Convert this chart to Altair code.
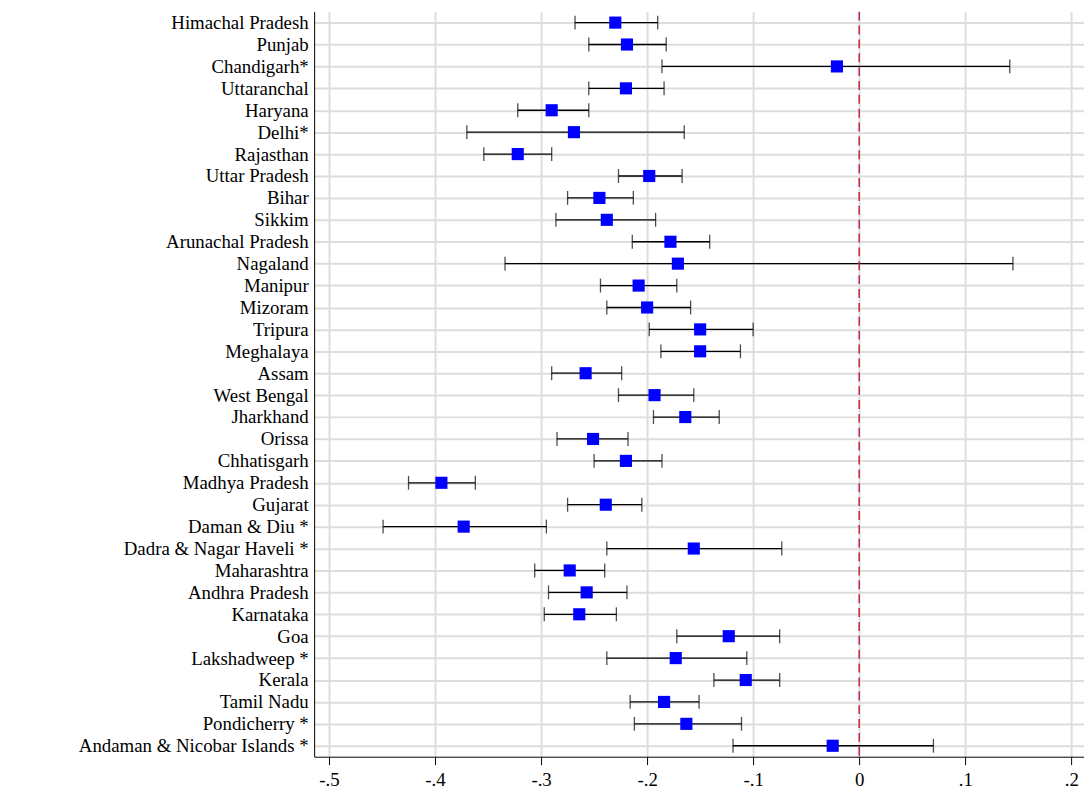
import altair as alt
import pandas as pd

states = ["Himachal Pradesh", "Punjab", "Chandigarh*", "Uttaranchal", "Haryana", "Delhi*",
          "Rajasthan", "Uttar Pradesh", "Bihar", "Sikkim", "Arunachal Pradesh", "Nagaland",
          "Manipur", "Mizoram", "Tripura", "Meghalaya", "Assam", "West Bengal", "Jharkhand",
          "Orissa", "Chhatisgarh", "Madhya Pradesh", "Gujarat", "Daman & Diu *",
          "Dadra & Nagar Haveli *", "Maharashtra", "Andhra Pradesh", "Karnataka", "Goa",
          "Lakshadweep *", "Kerala", "Tamil Nadu", "Pondicherry *", "Andaman & Nicobar Islands *"]
estimate = [-0.230, -0.219, -0.021, -0.220, -0.290, -0.269, -0.322, -0.198, -0.245, -0.238,
            -0.178, -0.171, -0.208, -0.200, -0.150, -0.150, -0.258, -0.193, -0.164, -0.251,
            -0.220, -0.394, -0.239, -0.373, -0.156, -0.273, -0.257, -0.264, -0.123, -0.173,
            -0.107, -0.184, -0.163, -0.025]
lower = [-0.268, -0.255, -0.186, -0.255, -0.322, -0.370, -0.354, -0.227, -0.275, -0.286,
         -0.214, -0.334, -0.244, -0.238, -0.198, -0.187, -0.290, -0.227, -0.194, -0.285,
         -0.250, -0.425, -0.275, -0.449, -0.238, -0.306, -0.293, -0.297, -0.172, -0.238,
         -0.137, -0.216, -0.212, -0.119]
upper = [-0.190, -0.182, 0.142, -0.184, -0.255, -0.165, -0.290, -0.167, -0.213, -0.192,
         -0.141, 0.145, -0.172, -0.159, -0.100, -0.112, -0.224, -0.156, -0.132, -0.218,
         -0.186, -0.362, -0.205, -0.295, -0.073, -0.240, -0.219, -0.229, -0.075, -0.106,
         -0.075, -0.151, -0.111, 0.070]
ticks = [-0.5, -0.4, -0.3, -0.2, -0.1, 0.0, 0.1, 0.2]

df = pd.DataFrame({"state": states, "est": estimate, "lo": lower, "hi": upper})

FONT = "Liberation Serif"
xscale = alt.Scale(domain=[-0.514, 0.212], nice=False, zero=False)
yenc = alt.Y("state:N", sort=states, title=None,
             scale=alt.Scale(type="point", padding=0.5),
             axis=alt.Axis(ticks=False, labelPadding=6, grid=True, gridColor="#dddddd",
                           gridWidth=2, domainColor="black", labelFontSize=19, labelLimit=0,
                           labelColor="black", labelFont=FONT))
base = alt.Chart(df)

xaxis = alt.Axis(values=ticks, grid=True, gridColor="#dddddd", gridWidth=2,
                 domainColor="black", tickColor="black", tickSize=8,
                 labelFontSize=19, labelColor="black", labelFont=FONT, labelPadding=6,
                 labelExpr="datum.value == 0 ? '0' : replace(replace(format(datum.value, '.1f'), '0.', '.'), '\u2212', '-')")

bars = base.mark_rule(color="black", strokeWidth=1.3).encode(
    x=alt.X("lo:Q", scale=xscale, axis=xaxis, title=None), x2="hi:Q", y=yenc)
cap_lo = base.mark_tick(color="black", orient="vertical", size=14, thickness=1.3).encode(
    x=alt.X("lo:Q", scale=xscale), y=yenc)
cap_hi = base.mark_tick(color="black", orient="vertical", size=14, thickness=1.3).encode(
    x=alt.X("hi:Q", scale=xscale), y=yenc)
zero = alt.Chart(pd.DataFrame({"z": [0.0]})).mark_rule(
    color="#c0283c", strokeDash=[9, 5], strokeWidth=1.5).encode(x=alt.X("z:Q", scale=xscale))
pts = base.mark_square(color="#0000ff", opacity=1, size=150).encode(
    x=alt.X("est:Q", scale=xscale), y=yenc)

chart = alt.layer(bars, cap_lo, cap_hi, zero, pts).properties(
    width=777, height=752, autosize=alt.AutoSizeParams(type="none"),
    padding={"left": 309, "top": 0, "right": 0, "bottom": 40},
    background="white"
).configure_view(stroke=None)

chart.save("out.html", embed_options={"renderer": "svg", "actions": False})
